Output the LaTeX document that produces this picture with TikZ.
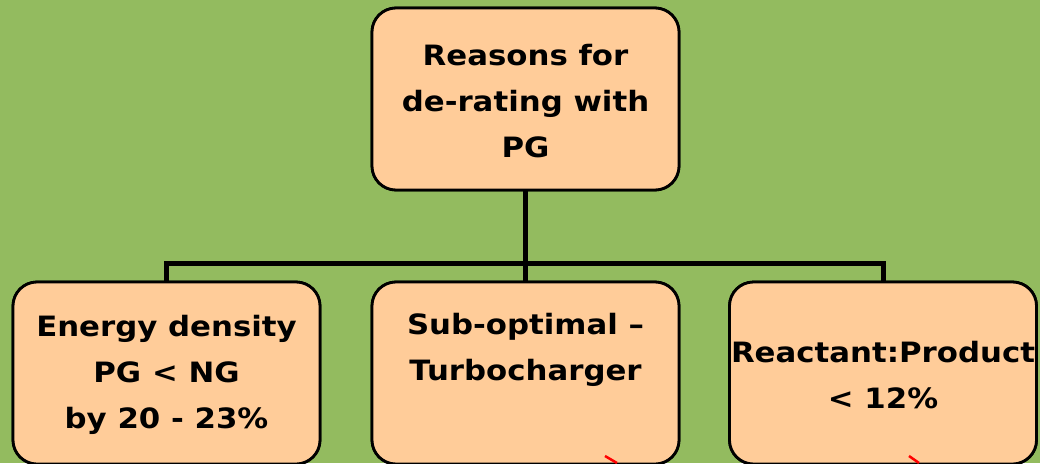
\documentclass[tikz,border=0pt]{standalone}
\usepackage{fontspec}
\newfontfamily\boxfont{DejaVu Sans}[FakeStretch=1.1]
\definecolor{bggreen}{RGB}{147,187,95}
\definecolor{peach}{RGB}{255,204,153}
\begin{document}
\begin{tikzpicture}[x=1pt,y=-1pt,
  box/.style={draw=black, line width=2.8pt, fill=peach, rounded corners=24pt,
    minimum width=307pt, minimum height=182pt, inner sep=0pt},
  lbl/.style={align=center, inner sep=0pt, font=\boxfont\bfseries\fontsize{28}{46}\selectfont},
  conn/.style={draw=black, line width=5pt, line join=miter},
  redmark/.style={draw=red, line width=2.5pt}]
\fill[bggreen] (0,0) rectangle (1040,463);
\useasboundingbox (0,0) rectangle (1040,463);
% connectors
\coordinate (bus) at (525.5,263);
\node[box] (top) at (525.5,99) {};
\node[box] (left) at (166.5,373) {};
\node[box] (mid) at (525.5,373) {};
\node[box] (right) at (883,373) {};
\draw[conn] (top.south) -- (bus);
\draw[conn] (left.north) |- (bus) -| (right.north);
\draw[conn] (bus) -- (mid.north);
% redraw boxes over connector ends
\node[box] at (525.5,99) {};
\node[box] at (166.5,373) {};
\node[box] at (525.5,373) {};
\node[box] at (883,373) {};
% labels
\node[lbl] (ttop) at (525.5,101) {Reasons for\\de-rating with\\PG};
\node[lbl] (tleft) at (166.5,375) {Energy density\\PG < NG\\by 20 - 23\%};
\node[lbl] (tmid) at (525.5,350) {Sub-optimal –\\Turbocharger};
\node[lbl] (tright) at (883,375) {Reactant:Product\\< 12\%};
% small red marks
\coordinate (r1a) at (605,456); \coordinate (r1b) at (617,463);
\coordinate (r2a) at (909,456); \coordinate (r2b) at (919,463);
\draw[redmark] (r1a) -- (r1b);
\draw[redmark] (r2a) -- (r2b);
\end{tikzpicture}
\end{document}
